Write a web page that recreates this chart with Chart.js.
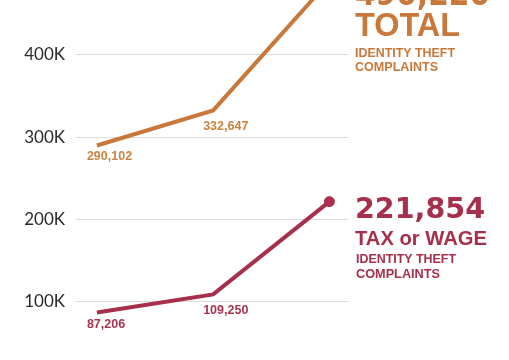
<!DOCTYPE html>
<html>
<head>
<meta charset="utf-8">
<script src="https://cdn.jsdelivr.net/npm/chart.js@4.4.1/dist/chart.umd.min.js"></script>
<style>
  html, body { margin: 0; padding: 0; background: #fff; }
  #wrap { width: 509px; height: 360px; }
</style>
</head>
<body>
<div id="wrap"><canvas id="lineChart" width="509" height="360"></canvas></div>
<script>
// values
var years = [2013, 2014, 2015];
var totalComplaints = [290102, 332647, 490220];
var taxWageComplaints = [87206, 109250, 221854];
var yTicks = [100000, 200000, 300000, 400000];

var orange = "#c8783a";
var red = "#a62f4b";

function toPoints(vals) {
  return vals.map(function (v, i) { return { x: years[i], y: v }; });
}

// draws bold text fitted to a cap height and width
function fitText(ctx, text, x, base, cap, width, color, family) {
  var size = cap / 0.72;
  ctx.save();
  ctx.font = "bold " + size + "px " + (family || "'Liberation Sans', Arial, sans-serif");
  ctx.fillStyle = color;
  ctx.textBaseline = "alphabetic";
  ctx.textAlign = "left";
  var w = ctx.measureText(text).width;
  ctx.translate(x, base);
  ctx.scale(width / w, 1);
  ctx.fillText(text, 0, 0);
  ctx.restore();
}

var heavy = "'DejaVu Sans', sans-serif";

var valueLabels = {
  id: "valueLabels",
  afterDatasetsDraw: function (chart) {
    var ctx = chart.ctx;
    var drops = [15, 20];
    chart.data.datasets.forEach(function (ds, di) {
      var meta = chart.getDatasetMeta(di);
      var col = di === 0 ? "#c9833f" : "#a83450";
      [0, 1].forEach(function (i) {
        var p = meta.data[i];
        ctx.save();
        ctx.font = "bold 12.5px 'Liberation Sans', Arial, sans-serif";
        ctx.fillStyle = col;
        ctx.textAlign = "left";
        ctx.textBaseline = "alphabetic";
        ctx.fillText(ds.data[i].y.toLocaleString("en-US"), p.x - 10, p.y + drops[i]);
        ctx.restore();
      });
    });
  },
  afterDraw: function (chart) {
    var ctx = chart.ctx;
    var x = 355;
    fitText(ctx, totalComplaints[2].toLocaleString("en-US"), x, 5, 24, 135, orange, heavy);
    fitText(ctx, "TOTAL", x, 36, 24, 105, orange);
    fitText(ctx, "IDENTITY THEFT", x, 57, 9.5, 100, orange);
    fitText(ctx, "COMPLAINTS", x, 71, 9.5, 83, orange);

    fitText(ctx, taxWageComplaints[2].toLocaleString("en-US"), x, 218, 20, 130, red, heavy);
    fitText(ctx, "TAX or WAGE", x, 245, 15, 132, red);
    fitText(ctx, "IDENTITY THEFT", x + 1, 263, 9.5, 100, red);
    fitText(ctx, "COMPLAINTS", x + 1, 278, 9.5, 84, red);
  }
};

var ctx = document.getElementById("lineChart").getContext("2d");
new Chart(ctx, {
  type: "line",
  data: {
    datasets: [
      {
        label: "Total",
        data: toPoints(totalComplaints),
        borderColor: orange,
        borderWidth: 4,
        pointRadius: 0,
        tension: 0,
        clip: false
      },
      {
        label: "Tax or wage",
        data: toPoints(taxWageComplaints),
        borderColor: red,
        borderWidth: 4,
        pointRadius: [0, 0, 5],
        pointBackgroundColor: "#b02f4e",
        pointBorderColor: red,
        pointBorderWidth: 1,
        tension: 0
      }
    ]
  },
  options: {
    responsive: false,
    animation: false,
    layout: { padding: { left: 0, right: 161, top: 0, bottom: 0 } },
    plugins: { legend: { display: false }, tooltip: { enabled: false } },
    scales: {
      x: {
        type: "linear",
        display: false,
        min: 2012.82,
        max: 2015.16
      },
      y: {
        min: 36800,
        max: 459500,
        border: { display: false },
        grid: { color: "#dcdcdc", lineWidth: 1, drawTicks: false },
        ticks: {
          padding: 11,
          color: "#2a2a2a",
          font: { family: "Lato", size: 17 },
          callback: function (v) { return (v / 1000) + "K"; }
        },
        afterBuildTicks: function (axis) {
          axis.ticks = yTicks.map(function (v) { return { value: v }; });
        },
        afterFit: function (axis) {
          axis.width = 76;
          axis.paddingTop = 0;
          axis.paddingBottom = 0;
        }
      }
    }
  },
  plugins: [valueLabels]
});
</script>
</body>
</html>
